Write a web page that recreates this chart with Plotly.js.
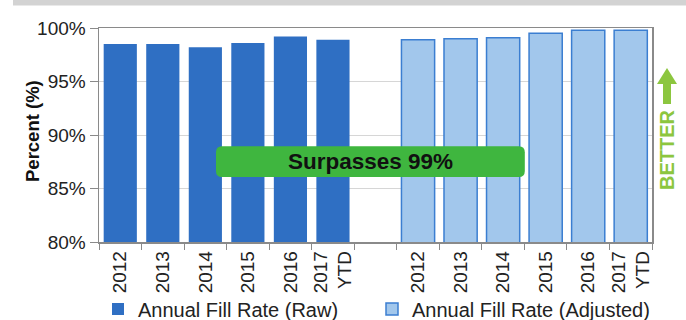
<!DOCTYPE html>
<html><head><meta charset="utf-8">
<script src="https://cdn.plot.ly/plotly-3.0.1.min.js"></script>
<style>html,body{margin:0;padding:0;background:#fff;}#chart{width:686px;height:320px;}</style>
</head><body><div id="chart"></div>
<script>
// ---- data ----
var tickLabels = ["2012","2013","2014","2015","2016","2017<br>YTD","","2012","2013","2014","2015","2016","2017<br>YTD"];
var rawPositions = [0,1,2,3,4,5];
var adjPositions = [7,8,9,10,11,12];
var rawValues = [98.5, 98.5, 98.2, 98.6, 99.2, 98.9];
var adjValues = [98.9, 99.0, 99.1, 99.5, 99.8, 99.8];
var seriesNames = ["Annual Fill Rate (Raw)", "Annual Fill Rate (Adjusted)"];
var calloutText = "Surpasses 99%";
var betterText = "BETTER";
var yTitle = "Percent (%)";

// ---- layout constants ----
var W = 686, H = 320, mL = 99, mR = 34, mT = 28, mB = 78;
var pw = W - mL - mR, ph = H - mT - mB;
function px2x(px){ return (px - mL) / pw; }
function px2y(py){ return (H - mB - py) / ph; }

var font = "Liberation Sans, Arial, sans-serif";

var traces = [
  {type:"bar", x: rawPositions, y: rawValues, name: seriesNames[0], legend:"legend",
   marker:{color:"#2f6fc3", line:{color:"#2f6fc3", width:0}}, hoverinfo:"skip"},
  {type:"bar", x: adjPositions, y: adjValues, name: seriesNames[1], legend:"legend2",
   marker:{color:"#a2c7ec", line:{color:"#3b7ed1", width:1.5}}, hoverinfo:"skip"}
];

// rounded callout box (data coords)
var bx0 = 2.25, bx1 = 9.51, by0 = 86.08, by1 = 88.95;
var rx = 6/42.54, ry = 6/10.7;
var boxPath = "M"+(bx0+rx)+","+by1+" L"+(bx1-rx)+","+by1+" Q"+bx1+","+by1+" "+bx1+","+(by1-ry)+
  " L"+bx1+","+(by0+ry)+" Q"+bx1+","+by0+" "+(bx1-rx)+","+by0+
  " L"+(bx0+rx)+","+by0+" Q"+bx0+","+by0+" "+bx0+","+(by0+ry)+
  " L"+bx0+","+(by1-ry)+" Q"+bx0+","+by1+" "+(bx0+rx)+","+by1+" Z";

// up arrow (paper coords)
var ac = 667;
var arrowPath = "M"+px2x(ac)+","+px2y(68)+" L"+px2x(ac+10)+","+px2y(84)+" L"+px2x(ac+4)+","+px2y(84)+
  " L"+px2x(ac+4)+","+px2y(104)+" L"+px2x(ac-4)+","+px2y(104)+" L"+px2x(ac-4)+","+px2y(84)+
  " L"+px2x(ac-10)+","+px2y(84)+" Z";

function legendAt(xpx){
  return {orientation:"h", xref:"container", yref:"container", x: xpx/W, xanchor:"left", y: 11/H, yanchor:"middle",
    font:{size:20, color:"#222"}, itemwidth:30, bgcolor:"rgba(0,0,0,0)", itemclick:false};
}

var layout = {
  width: W, height: H,
  margin:{l:mL, r:mR, t:mT, b:mB, pad:0, autoexpand:false},
  paper_bgcolor:"#fff", plot_bgcolor:"#fff",
  font:{family:font, color:"#222", size:19},
  bargap: 0.22,
  showlegend: true,
  legend: legendAt(98),
  legend2: legendAt(372),
  xaxis:{range:[-0.5,12.5], tickmode:"array", tickvals:[0,1,2,3,4,5,6,7,8,9,10,11,12], ticktext:tickLabels,
    tickangle:-90, ticks:"", showgrid:false, zeroline:false, automargin:false,
    showline:true, linecolor:"#8a8a8a", linewidth:1.5, mirror:true,
    tickfont:{size:19, color:"#222"},
    minor:{tickmode:"linear", tick0:0.5, dtick:1, ticks:"outside", ticklen:6, tickcolor:"#8a8a8a", tickwidth:1, showgrid:false},
    fixedrange:true},
  yaxis:{range:[80,100], tickvals:[80,85,90,95,100], ticktext:["80%","85%","90%","95%","100%"],
    ticks:"outside", ticklen:8, tickcolor:"#8a8a8a", showgrid:true, gridcolor:"#d6d6d6", gridwidth:1,
    zeroline:false, showline:true, linecolor:"#8a8a8a", linewidth:1.5, mirror:true, automargin:false,
    tickfont:{size:19, color:"#222"},
    fixedrange:true},
  shapes:[
    {type:"rect", xref:"paper", yref:"paper", x0:px2x(13), x1:px2x(700), y0:px2y(0), y1:px2y(5.5), fillcolor:"#d3d3d3", line:{width:0}, layer:"above"},
    {type:"path", xref:"x", yref:"y", path: boxPath, fillcolor:"#3fb63f", line:{width:0}, layer:"above"},
    {type:"path", xref:"paper", yref:"paper", path: arrowPath, fillcolor:"#8cc63f", line:{width:0}, layer:"above"}
  ],
  annotations:[
    {xref:"x", yref:"y", x:(bx0+bx1)/2, y:(by0+by1)/2, text:"<b>"+calloutText+"</b>", showarrow:false,
     font:{size:22.5, color:"#111", family:font}, xanchor:"center", yanchor:"middle"},
    {xref:"paper", yref:"paper", x:px2x(667), y:px2y(150), text:"<b>"+betterText+"</b>", showarrow:false, textangle:-90,
     font:{size:20, color:"#8cc63f", family:font}, xanchor:"center", yanchor:"middle"},
    {xref:"paper", yref:"paper", x:px2x(32), y:px2y(131), text:"<b>"+yTitle+"</b>", showarrow:false, textangle:-90,
     font:{size:18.5, color:"#111", family:font}, xanchor:"center", yanchor:"middle"}
  ]
};

Plotly.newPlot("chart", traces, layout, {displayModeBar:false, staticPlot:true});
</script></body></html>
